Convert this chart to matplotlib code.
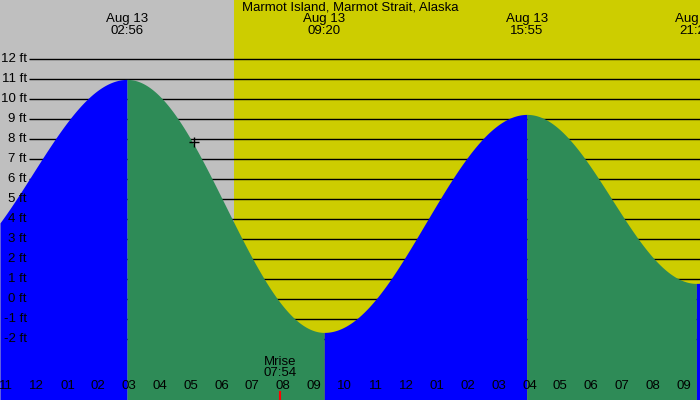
import numpy as np
import matplotlib
matplotlib.use("Agg")
import matplotlib.pyplot as plt

plt.rcParams['font.family'] = ['Liberation Sans', 'DejaVu Sans']

title = "Marmot Island, Marmot Strait, Alaska"
# tide extremes, hours from Aug 13 00:00
ext_hours = [-3.22, 2.933, 9.333, 15.917, 21.417, 27.6]
ext_heights = [1.5, 11.0, -1.65, 9.25, 0.8, 11.5]
ext_dates = ["", "Aug 13", "Aug 13", "Aug 13", "Aug 13", ""]
ext_times = ["", "02:56", "09:20", "15:55", "21:25", ""]
hour_ticks = list(range(-1, 22))
hour_labels = ["11", "12", "01", "02", "03", "04", "05", "06", "07", "08", "09", "10",
               "11", "12", "01", "02", "03", "04", "05", "06", "07", "08", "09"]
level_ticks = list(range(-2, 13))
sunrise_hour = 6.405
moonrise_hour = 7.9
moonrise_text = ["Mrise", "07:54"]
now_hour = 5.12
now_height = 7.85

XLIM = (-1.192, 21.536)
YLIM = (-5.03, 14.97)
W, H = 700, 400

BLUE = '#0000FF'
GREEN = '#2E8B57'
GRAY = '#BFBFBF'
YELLOW = '#CDCD00'


def tide(t):
    t = np.atleast_1d(np.asarray(t, dtype=float))
    out = np.empty_like(t)
    for k, tv in enumerate(t):
        i = np.searchsorted(ext_hours, tv) - 1
        i = min(max(i, 0), len(ext_hours) - 2)
        t0, t1 = ext_hours[i], ext_hours[i + 1]
        h0, h1 = ext_heights[i], ext_heights[i + 1]
        out[k] = (h0 + h1) / 2 + (h0 - h1) / 2 * np.cos(np.pi * (tv - t0) / (t1 - t0))
    return out


fig = plt.figure(figsize=(7, 4), dpi=100)
ax = fig.add_axes([0, 0, 1, 1])
ax.set_xlim(*XLIM)
ax.set_ylim(*YLIM)
for s in ax.spines.values():
    s.set_visible(False)
ax.set_yticks([])

ax.axvspan(XLIM[0], sunrise_hour, color=GRAY, lw=0, zorder=0)
ax.axvspan(sunrise_hour, XLIM[1], color=YELLOW, lw=0, zorder=0)

ax.hlines(level_ticks, 29 / W, 1, transform=ax.get_yaxis_transform(),
          colors='black', lw=1, zorder=1)

for i in range(len(ext_hours) - 1):
    a = max(ext_hours[i], XLIM[0])
    b = min(ext_hours[i + 1], XLIM[1])
    if b <= a:
        continue
    tt = np.linspace(a, b, 400)
    col = BLUE if ext_heights[i + 1] > ext_heights[i] else GREEN
    ax.fill_between(tt, tide(tt), YLIM[0], color=col, lw=0, zorder=2)

ax.plot([now_hour], [now_height], marker='+', color='black', ms=7, mew=1, zorder=4)

fs = 9.5
for v in level_ticks:
    ax.text(27 / W, v, f"{v} ft", transform=ax.get_yaxis_transform(),
            ha='right', va='center', fontsize=fs, zorder=5)

ax.set_xticks(hour_ticks)
ax.set_xticklabels([])
ax.tick_params(axis='x', direction='in', length=5.8, width=0.8, color='black', pad=0)
for tk, h in zip(ax.xaxis.get_major_ticks(), hour_ticks):
    tk.tick1line.set_zorder(6)
    if h == 0:
        tk.tick1line.set_markeredgewidth(2.4)
for h, lab in zip(hour_ticks, hour_labels):
    ax.text(h, 1 - 386 / H, lab, transform=ax.get_xaxis_transform(),
            ha='center', va='center', fontsize=fs, zorder=5)

ax.axvline(moonrise_hour, ymin=0, ymax=8 / H, color='red', lw=1.5, zorder=6)
ax.text(moonrise_hour, 1 - 362 / H, moonrise_text[0], transform=ax.get_xaxis_transform(),
        ha='center', va='center', fontsize=fs, zorder=5)
ax.text(moonrise_hour, 1 - 373.5 / H, moonrise_text[1], transform=ax.get_xaxis_transform(),
        ha='center', va='center', fontsize=fs, zorder=5)

for h, d, tm in zip(ext_hours, ext_dates, ext_times):
    if not d:
        continue
    ax.text(h, 1 - 19 / H, d, transform=ax.get_xaxis_transform(),
            ha='center', va='center', fontsize=fs, zorder=5)
    ax.text(h, 1 - 31 / H, tm, transform=ax.get_xaxis_transform(),
            ha='center', va='center', fontsize=fs, zorder=5)

ax.text(0.5, 1 - 7.5 / H, title, transform=ax.transAxes, ha='center', va='center',
        fontsize=fs, zorder=5)

fig.savefig('out.png', dpi=100)
